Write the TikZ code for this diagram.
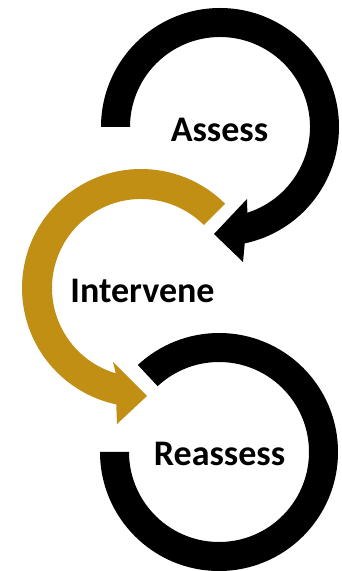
\documentclass[tikz,border=0pt]{standalone}
\usepackage{fontspec}
\setmainfont{Carlito}
\usetikzlibrary{calc}
\definecolor{gold}{RGB}{192,143,20}
\begin{document}
\begin{tikzpicture}[x=1pt,y=1pt,
  lbl/.style={font=\bfseries\fontsize{36}{40}\selectfont, anchor=base, inner sep=0pt, text=black},
  ring/.style={fill=black},
  goldring/.style={fill=gold}]
\useasboundingbox (0,0) rectangle (341,571);
\coordinate (c1) at (220,444);
\coordinate (c2) at (141,283);
\coordinate (c3) at (219,119);
% top ring with arrow
\fill[ring] ($(c1)+(180:119)$) arc[start angle=180,end angle=-78,radius=119]
  -- (243,309) -- (214,337) -- (247,372)
  -- ($(c1)+(-72.3:90)$) arc[start angle=-72.3,end angle=180,radius=90] -- cycle;
% gold ring with arrow
\fill[goldring] ($(c2)+(45:119)$) arc[start angle=45,end angle=258,radius=119]
  -- (117,147) -- (147,175) -- (113,209)
  -- ($(c2)+(253.5:89)$) arc[start angle=253.5,end angle=45,radius=89] -- cycle;
% bottom ring
\fill[ring] ($(c3)+(180:119)$) arc[start angle=180,end angle=493,radius=119]
  -- ($(c3)+(133:90)$) arc[start angle=493,end angle=180,radius=90] -- cycle;
\node[lbl] (assess) at (219.5,429) {Assess};
\node[lbl] (intervene) at (142.5,268) {Intervene};
\node[lbl] (reassess) at (219.5,105) {Reassess};
\end{tikzpicture}
\end{document}
